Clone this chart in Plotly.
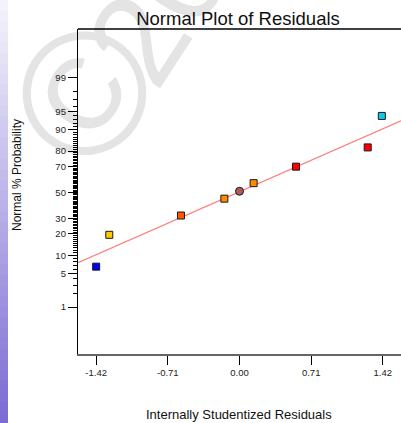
import plotly.graph_objects as go
from statistics import NormalDist

# ---- data ----
residuals = [-1.42, -1.29, -0.58, -0.15, 0.00, 0.14, 0.56, 1.27, 1.41]
normal_prob_pct = [6.6, 19.5, 32, 45, 51, 57.5, 70, 82, 94]
point_colors = ["#0000ff", "#ffc800", "#ff5a00", "#ff8c00", "#b05a5a",
                "#ff8c00", "#ff0000", "#ff0000", "#10c8f0"]
point_symbols = ["square", "square", "square", "square", "circle",
                 "square", "square", "square", "square"]
fit_slope = 0.9
fit_intercept = 0.016
x_range = [-1.6, 1.6]
x_tick_vals = [-1.42, -0.71, 0.00, 0.71, 1.42]
x_tick_text = ["-1.42", "-0.71", "0.00", "0.71", "1.42"]
y_tick_pct = [1, 5, 10, 20, 30, 50, 70, 80, 90, 95, 99]
y_minor_pct = [2, 3, 4, 6, 7, 8, 9] + [p for p in range(11, 95) if p not in y_tick_pct] + [96, 97, 98]

nd = NormalDist()
def probit(p):
    return nd.inv_cdf(p / 100.0)

W, H = 401, 423
ML, MR, MT, MB = 78, 0, 29, 69
PW, PH = W - ML - MR, H - MT - MB
def px_x(px):
    return (px - ML) / PW
def px_y(py):
    return (H - MB - py) / PH

fig = go.Figure()

# fitted line
fig.add_trace(go.Scatter(
    x=x_range, y=[fit_intercept + fit_slope * v for v in x_range],
    mode="lines", line=dict(color="#ff7f7f", width=1.3),
    hoverinfo="skip", showlegend=False))

# points
fig.add_trace(go.Scatter(
    x=residuals, y=[probit(p) for p in normal_prob_pct],
    mode="markers",
    marker=dict(color=point_colors, symbol=point_symbols, opacity=1,
                size=[7 if s == "square" else 8 for s in point_symbols],
                line=dict(color="#1a1a1a", width=1)),
    showlegend=False))

shapes = []
# left gradient strip (slide background)
n = 40
top_c = (246, 245, 252)
bot_c = (122, 106, 210)
for i in range(n):
    t = (i + 0.5) / n
    c = tuple(int(round(top_c[k] + (bot_c[k] - top_c[k]) * t)) for k in range(3))
    y0 = H * i / n
    y1 = H * (i + 1) / n + 1
    shapes.append(dict(type="rect", xref="paper", yref="paper",
                       x0=px_x(0), x1=px_x(8), y0=px_y(y1), y1=px_y(y0),
                       line=dict(width=0), fillcolor="rgb(%d,%d,%d)" % c,
                       layer="below"))

# watermark (copyright sign and digits)
def watermark(text, cx, cy, size):
    return dict(type="rect", xref="paper", yref="paper",
                x0=px_x(cx - 1), x1=px_x(cx + 1), y0=px_y(cy + 1), y1=px_y(cy - 1),
                line=dict(width=0), fillcolor="rgba(0,0,0,0)", layer="below",
                label=dict(text=text, textangle=-57, textposition="middle center",
                           font=dict(size=size, color="#e4e4e4",
                                     family="Liberation Sans, Arial, sans-serif")))
shapes.append(watermark("©", 70, 84, 175))
shapes.append(watermark("20", 148, 2, 130))

# top frame line
shapes.append(dict(type="line", xref="paper", yref="paper", x0=0, x1=1, y0=1, y1=1,
                   line=dict(color="black", width=1.3)))

fig.update_layout(
    width=W, height=H,
    margin=dict(l=ML, r=MR, t=MT, b=MB),
    paper_bgcolor="white", plot_bgcolor="rgba(0,0,0,0)",
    font=dict(family="Liberation Sans, Arial, sans-serif", color="#111"),
    shapes=shapes,
    title=dict(text="Normal Plot of Residuals", x=px_x(238), xanchor="center",
               xref="paper", y=1 - 18.5 / H, yanchor="middle", yref="container",
               font=dict(size=18.5, color="#111")),
    xaxis=dict(range=x_range, showgrid=False, zeroline=False,
               tickvals=x_tick_vals, ticktext=x_tick_text,
               ticks="outside", ticklen=9, tickwidth=1.2, tickcolor="black",
               showline=True, linecolor="#666", linewidth=1.5,
               tickfont=dict(size=9.5, color="#222")),
    yaxis=dict(range=[-3.28, 3.32], showgrid=False, zeroline=False,
               tickvals=[probit(p) for p in y_tick_pct],
               ticktext=[str(p) for p in y_tick_pct],
               ticks="outside", ticklen=9, tickwidth=1, tickcolor="black",
               showline=True, linecolor="black", linewidth=1.3,
               tickfont=dict(size=9.5, color="#222"),
               minor=dict(tickvals=[probit(p) for p in y_minor_pct],
                          ticks="outside", ticklen=4, tickwidth=1, tickcolor="black")),
    annotations=[
        dict(text="Normal % Probability", textangle=-90, xref="paper", yref="paper",
             x=px_x(17), y=px_y(175), xanchor="center", yanchor="middle",
             showarrow=False, font=dict(size=12, color="#111")),
        dict(text="Internally Studentized Residuals", xref="paper", yref="paper",
             x=px_x(239), y=px_y(415), xanchor="center", yanchor="middle",
             showarrow=False, font=dict(size=13, color="#111")),
    ],
)

fig.write_html("out.html", config={"displayModeBar": False},
               post_script="document.body.style.margin='0';document.body.style.overflow='hidden';")
